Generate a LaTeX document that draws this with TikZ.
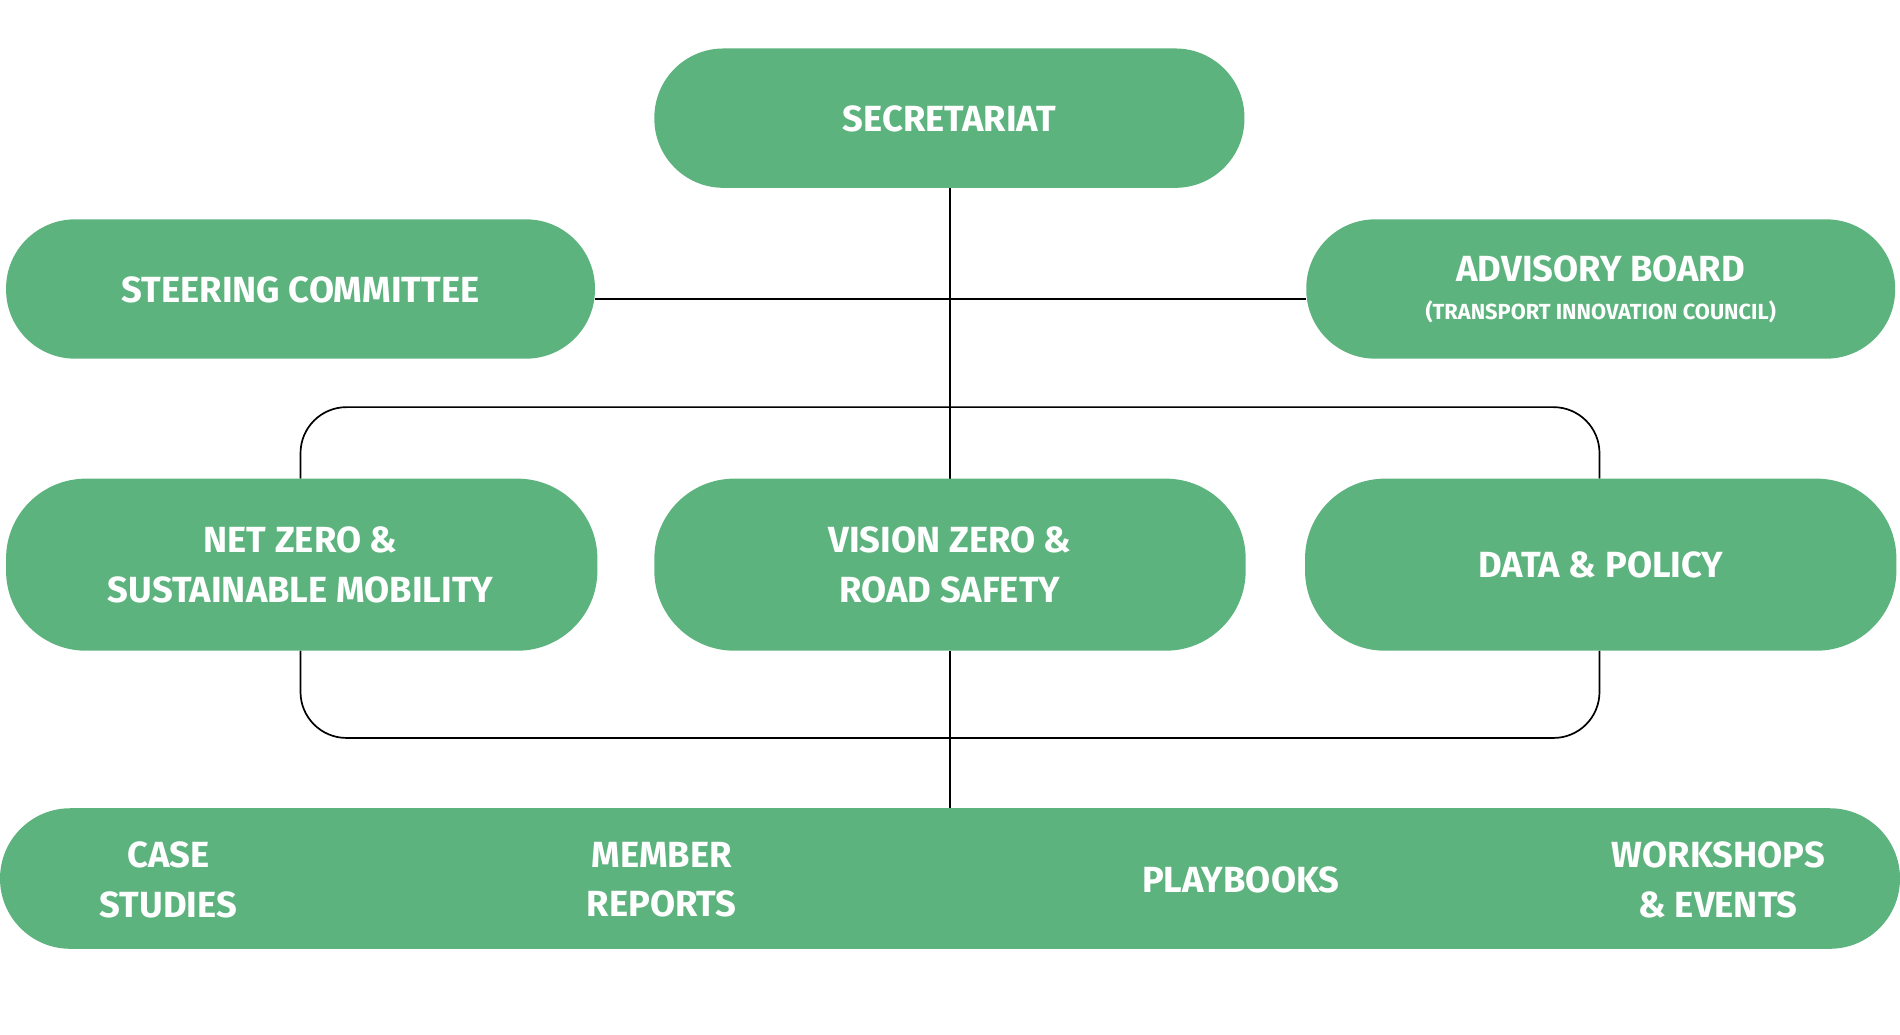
\documentclass[tikz,border=0pt]{standalone}
\usepackage{fontspec}
\setmainfont{Fira Sans}
\definecolor{grn}{HTML}{5DB37E}
\begin{document}
\begin{tikzpicture}[x=1pt,y=-1pt,
  box/.style={fill=grn,draw=none,rounded corners=#1},
  lbl/.style={text=white,font=\bfseries\fontsize{30}{41}\selectfont,align=center},
  ln/.style={draw=black,line width=1.4pt}]
\useasboundingbox (0,0) rectangle (1568,854);
% connectors
\coordinate (c1) at (784,247);
\draw[ln] (784,155) -- (784,395);
\draw[ln] (491,247) -- (1078,247);
\draw[ln,rounded corners=38] (248,395) -- (248,336) -- (1320,336) -- (1320,395);
\draw[ln,rounded corners=38] (248,537) -- (248,609) -- (1320,609) -- (1320,537);
\draw[ln] (784,537) -- (784,667);
% boxes
\fill[box=57] (540,40) rectangle (1027,155);
\node[lbl] (sec) at (783.5,98) {SECRETARIAT};
\fill[box=57] (5,181) rectangle (491,296);
\node[lbl] (ste) at (248,239) {STEERING COMMITTEE};
\fill[box=57] (1078,181) rectangle (1564,296);
\node[lbl] (adv) at (1321,222) {ADVISORY BOARD};
\node[text=white,font=\bfseries\fontsize{18}{22}\selectfont] (adv2) at (1321,257) {(TRANSPORT INNOVATION COUNCIL)};
\fill[box=66] (5,395) rectangle (493,537);
\node[lbl] (net) at (248,466) {NET ZERO \&\\SUSTAINABLE MOBILITY};
\fill[box=66] (540,395) rectangle (1028,537);
\node[lbl] (vis) at (784,466) {VISION ZERO \&\\ROAD SAFETY};
\fill[box=66] (1077,395) rectangle (1565,537);
\node[lbl] (dat) at (1321,466) {DATA \& POLICY};
\fill[box=58] (0,667) rectangle (1568,783);
\node[lbl] (cas) at (139,726) {CASE\\STUDIES};
\node[lbl] (mem) at (546,726) {MEMBER\\REPORTS};
\node[lbl] (pla) at (1024,726) {PLAYBOOKS};
\node[lbl] (wor) at (1418,726) {WORKSHOPS\\\& EVENTS};
\end{tikzpicture}
\end{document}
